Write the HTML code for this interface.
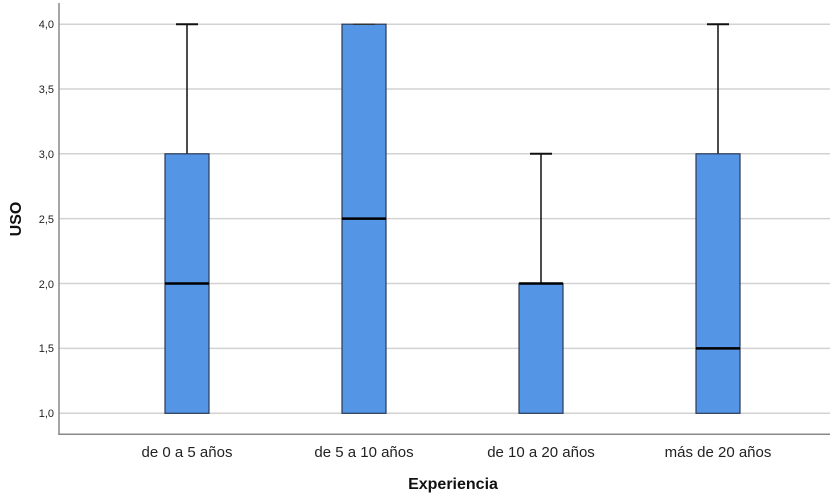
<!DOCTYPE html>
<html><head><meta charset="utf-8"><style>
html,body{margin:0;padding:0;background:#fff;}
svg{display:block;}
text{font-family:"Liberation Sans",Arial,sans-serif;}
</style></head><body>
<svg width="830" height="499" viewBox="0 0 830 499" xmlns="http://www.w3.org/2000/svg">
<rect width="830" height="499" fill="#fff"/>
<g stroke="#d2d2d2" stroke-width="1.5">
<line x1="59" y1="24.2" x2="830" y2="24.2"/>
<line x1="59" y1="89" x2="830" y2="89"/>
<line x1="59" y1="153.8" x2="830" y2="153.8"/>
<line x1="59" y1="218.6" x2="830" y2="218.6"/>
<line x1="59" y1="283.5" x2="830" y2="283.5"/>
<line x1="59" y1="348.4" x2="830" y2="348.4"/>
<line x1="59" y1="413.3" x2="830" y2="413.3"/>
</g>
<g stroke="#888" stroke-width="1.5">
<line x1="59" y1="3" x2="59" y2="435"/>
<line x1="58.3" y1="434.3" x2="830" y2="434.3"/>
</g>
<g font-size="11" fill="#222" text-anchor="end">
<text x="54" y="28">4,0</text>
<text x="54" y="93">3,5</text>
<text x="54" y="158">3,0</text>
<text x="54" y="223">2,5</text>
<text x="54" y="288">2,0</text>
<text x="54" y="352">1,5</text>
<text x="54" y="417">1,0</text>
</g>
<!-- Box 1 -->
<g stroke="#111" stroke-width="1.5">
<line x1="187" y1="24.2" x2="187" y2="153.8"/>
<line x1="176" y1="24.2" x2="198" y2="24.2" stroke-width="2"/>
</g>
<rect x="165" y="153.8" width="44" height="259.5" fill="#5595e5" stroke="#2a3a55" stroke-width="1.2"/>
<line x1="165" y1="283.5" x2="209" y2="283.5" stroke="#000" stroke-width="2.5"/>
<!-- Box 2 -->
<rect x="342" y="24.2" width="44" height="389.1" fill="#5595e5" stroke="#2a3a55" stroke-width="1.2"/>
<line x1="342" y1="218.6" x2="386" y2="218.6" stroke="#000" stroke-width="2.5"/>
<line x1="353" y1="24.2" x2="375" y2="24.2" stroke="#333" stroke-width="1.5"/>
<!-- Box 3 -->
<g stroke="#111" stroke-width="1.5">
<line x1="541" y1="153.8" x2="541" y2="283.5"/>
<line x1="530" y1="153.8" x2="552" y2="153.8" stroke-width="2"/>
</g>
<rect x="519" y="283.5" width="44" height="129.8" fill="#5595e5" stroke="#2a3a55" stroke-width="1.2"/>
<line x1="519" y1="283.5" x2="563" y2="283.5" stroke="#000" stroke-width="2.5"/>
<!-- Box 4 -->
<g stroke="#111" stroke-width="1.5">
<line x1="718" y1="24.2" x2="718" y2="153.8"/>
<line x1="707" y1="24.2" x2="729" y2="24.2" stroke-width="2"/>
</g>
<rect x="696" y="153.8" width="44" height="259.5" fill="#5595e5" stroke="#2a3a55" stroke-width="1.2"/>
<line x1="696" y1="348.4" x2="740" y2="348.4" stroke="#000" stroke-width="2.5"/>
<g font-size="15" fill="#222" text-anchor="middle">
<text x="187" y="457">de 0 a 5 años</text>
<text x="364" y="457">de 5 a 10 años</text>
<text x="541" y="457">de 10 a 20 años</text>
<text x="718" y="457">más de 20 años</text>
</g>
<text x="453" y="489" font-size="16" font-weight="bold" fill="#111" text-anchor="middle">Experiencia</text>
<text x="0" y="0" font-size="16" font-weight="bold" fill="#111" text-anchor="middle" transform="translate(21,219) rotate(-90)">USO</text>
</svg>
</body></html>
